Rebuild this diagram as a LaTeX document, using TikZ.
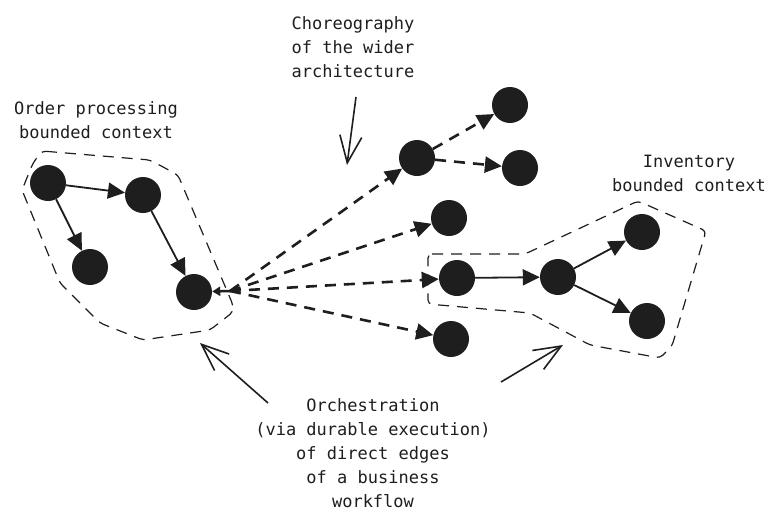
\documentclass[tikz,border=0pt]{standalone}
\usepackage{fontspec}
\setmonofont{DejaVu Sans Mono}
\usetikzlibrary{arrows.meta}
\definecolor{ink}{HTML}{1E1E1E}
\begin{document}
\begin{tikzpicture}[x=1pt,y=-1pt,
  dot/.style={circle,fill=ink,draw=none,minimum size=36pt,inner sep=0pt},
  lbl/.style={align=center,font=\ttfamily\fontsize{17}{24}\selectfont,text=ink,inner sep=0pt},
  solidarr/.style={draw=ink,line width=1.8pt,-{Triangle[length=17pt,width=16pt]}},
  dasharr/.style={draw=ink,line width=2.6pt,dash pattern=on 11pt off 8pt,-{Triangle[length=17pt,width=16pt]}},
  region/.style={draw=ink,line width=1.2pt,dash pattern=on 11pt off 8pt,rounded corners=4pt},
  note/.style={draw=ink,line width=1.6pt,-{Straight Barb[length=27pt,width=22pt,line width=1.6pt]}}
]
\useasboundingbox (0,0) rectangle (780,525);

% regions
\draw[region] (42,151) -- (150,160) -- (178,175) -- (233,305) -- (233,312) -- (210,330) -- (143,340) -- (100,323) -- (60,283) -- (22,190) -- (33,163) -- cycle;
\draw[region] (428,254) -- (525,254) -- (638,201) -- (706,231) -- (672,346) -- (660,358) -- (590,345) -- (530,313) -- (428,304) -- cycle;

% nodes
\node[dot] (A) at (48,183) {};
\node[dot] (B) at (143,195) {};
\node[dot] (C) at (90,267) {};
\node[dot] (D) at (194,292) {};
\node[dot] (E) at (417,158) {};
\node[dot] (F) at (510,105) {};
\node[dot] (G) at (520,168) {};
\node[dot] (H) at (449,218) {};
\node[dot] (I) at (457,278) {};
\node[dot] (J) at (451,339) {};
\node[dot] (K) at (558,277) {};
\node[dot] (L) at (642,232) {};
\node[dot] (M) at (647,321) {};

\coordinate (hub) at (230,291);

% solid edges
\draw[solidarr] (A) -- (B);
\draw[solidarr] (A) -- (C);
\draw[solidarr] (B) -- (D);
\draw[solidarr] (I) -- (K);
\draw[solidarr] (K) -- (L);
\draw[solidarr] (K) -- (M);

% dashed edges
\draw[dasharr] (hub) -- (E);
\draw[dasharr] (hub) -- (H);
\draw[dasharr] (hub) -- (I);
\draw[dasharr] (hub) -- (J);
\draw[draw=ink,line width=2.5pt,-{Triangle[length=8pt,width=9pt]}] (hub) -- (D);
\draw[dasharr] (E) -- (F);
\draw[dasharr] (E) -- (G);

% labels
\node[lbl] (tchor) at (353,47) {Choreography\\of the wider\\architecture};
\node[lbl] (torder) at (96,120) {Order processing\\bounded context};
\node[lbl] (tinv) at (689,173) {Inventory\\bounded context};
\node[lbl] (torch) at (373,453) {Orchestration\\(via durable execution)\\of direct edges\\of a business\\workflow};

% annotation arrows
\coordinate (c1) at (356,97);
\coordinate (c2) at (347,165);
\coordinate (o1) at (268,403);
\coordinate (o2) at (200,343);
\coordinate (r1) at (501,382);
\coordinate (r2) at (563,345);
\draw[note] (c1) -- (c2);
\draw[note] (o1) -- (o2);
\draw[note] (r1) -- (r2);
\end{tikzpicture}
\end{document}
